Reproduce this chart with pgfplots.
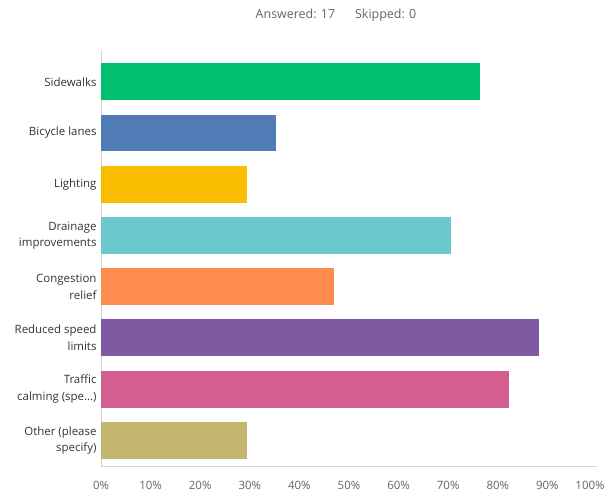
\documentclass[border=0pt]{standalone}
\usepackage{pgfplots}
\pgfplotsset{compat=1.18}
\usepackage{fontspec}
\setmainfont{Open Sans}
\definecolor{c1}{HTML}{00BF6F}
\definecolor{c2}{HTML}{507CB6}
\definecolor{c3}{HTML}{F9BE00}
\definecolor{c4}{HTML}{6BC8CD}
\definecolor{c5}{HTML}{FF8B4F}
\definecolor{c6}{HTML}{7F5AA2}
\definecolor{c7}{HTML}{D25F90}
\definecolor{c8}{HTML}{C4B66F}
\definecolor{axgray}{HTML}{D5D5D5}
\definecolor{lab}{HTML}{333333}
\definecolor{tick}{HTML}{666666}
\begin{document}
\begin{tikzpicture}
\path[use as bounding box] (0,0) rectangle (606bp,492bp);
\node[text=tick, font=\fontsize{12.5}{14}\selectfont] at (336bp,477bp) {Answered: 17\hspace{1.6em}Skipped: 0};
\begin{axis}[
  at={(101bp,26bp)}, anchor=south west,
  scale only axis, width=496bp, height=416bp,
  xbar, bar width=0.72,
  xmin=0, xmax=100, ymin=-0.5, ymax=7.62,
  axis lines*=left,
  axis line style={axgray, line width=1pt},
  major tick length=0pt,
  xtick={0,10,20,30,40,50,60,70,80,90,100},
  xticklabel={\pgfmathprintnumber{\tick}\%\ifnum\ticknum=10\hspace*{14bp}\fi},
  /pgf/number format/assume math mode=true,
  xticklabel style={text=tick, font=\fontsize{11.5}{13}\selectfont, yshift=-12bp},
  ytick={0,1,2,3,4,5,6,7},
  yticklabels={{Other (please\\specify)},{Traffic\\calming (spe\ldots)},{Reduced speed\\limits},{Congestion\\relief},{Drainage\\improvements},{Lighting},{Bicycle lanes},{Sidewalks}},
  yticklabel style={text=lab, align=right, font=\fontsize{11.5}{16.5}\selectfont, xshift=-1bp},
  every axis plot/.append style={draw=none, bar shift=0pt},
]
\addplot[fill=c1] coordinates {(76.47,7)};
\addplot[fill=c2] coordinates {(35.29,6)};
\addplot[fill=c3] coordinates {(29.41,5)};
\addplot[fill=c4] coordinates {(70.59,4)};
\addplot[fill=c5] coordinates {(47.06,3)};
\addplot[fill=c6] coordinates {(88.24,2)};
\addplot[fill=c7] coordinates {(82.35,1)};
\addplot[fill=c8] coordinates {(29.41,0)};
\end{axis}
\end{tikzpicture}
\end{document}
